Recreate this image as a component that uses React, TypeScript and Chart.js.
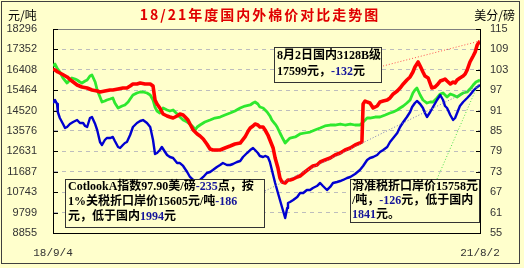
import React, { useEffect, useRef } from 'react';
import { Chart, registerables } from 'chart.js';

Chart.register(...registerables);

// ---------- data ----------
const titleText = '18/21年度国内外棉价对比走势图';
const leftUnit = '元/吨';
const rightUnit = '美分/磅';
const xTickLabels = ['18/9/4', '21/8/2'];
const totalDays = 1063; // 2018-09-04 .. 2021-08-02
const leftTicks = [8855, 9799, 10743, 11687, 12631, 13576, 14520, 15464, 16408, 17352, 18296];
const rightTicks = [55, 61, 67, 73, 79, 85, 91, 97, 103, 109, 115];

// [day offset from 18/9/4, yuan/ton]
const domestic3128B: [number, number][] = [
  [0, 16445], [5, 16398], [12, 16306], [22, 16213], [35, 16075], [47, 15889], [60, 15704], [72, 15612],
  [85, 15565], [97, 15473], [110, 15427], [117, 15380], [129, 15427], [142, 15473], [149, 15473], [162, 15519],
  [174, 15565], [184, 15565], [192, 15658], [199, 15751], [209, 15751], [217, 15797], [229, 15751], [242, 15751],
  [249, 15658], [254, 15010], [259, 14825], [266, 14640], [274, 14362], [284, 14270], [291, 14223], [299, 14177],
  [309, 14270], [316, 14362], [324, 14316], [329, 14223], [336, 14084], [341, 13899], [349, 13622], [359, 13437],
  [366, 13344], [374, 13205], [383, 12974], [391, 12742], [398, 12696], [408, 12696], [416, 12696], [428, 12789],
  [441, 12881], [453, 12974], [466, 13020], [478, 13298], [486, 13575], [491, 13714], [498, 13807], [503, 13899],
  [510, 13853], [515, 13761], [523, 13761], [528, 13622], [535, 13390], [540, 13159], [548, 12789], [553, 12326],
  [560, 11863], [565, 11400], [570, 11215], [578, 11169], [585, 11308], [590, 11308], [598, 11354], [608, 11447],
  [615, 11493], [627, 11678], [640, 11863], [647, 11956], [657, 12002], [665, 12141], [677, 12233], [690, 12326],
  [702, 12465], [715, 12557], [727, 12696], [740, 12789], [752, 12928], [764, 13020], [769, 13066], [772, 14825],
  [777, 14964], [782, 14918], [789, 14871], [797, 14640], [807, 14732], [814, 14918], [822, 14964], [832, 15010],
  [839, 15103], [847, 15288], [857, 15427], [864, 15565], [872, 15751], [881, 15936], [889, 16075], [896, 16306],
  [901, 16537], [909, 16769], [914, 16584], [921, 16306], [926, 16121], [934, 16028], [943, 15565], [951, 15612],
  [956, 15704], [964, 15889], [971, 15936], [976, 15982], [981, 15889], [989, 15751], [996, 15843], [1001, 15797],
  [1006, 15936], [1013, 16028], [1021, 16121], [1026, 16213], [1031, 16398], [1038, 16769], [1046, 17046],
  [1051, 17232], [1056, 17556], [1063, 17741],
];

const slidingDutyPrice: [number, number][] = [
  [0, 16584], [5, 16676], [10, 16491], [17, 16306], [25, 16028], [35, 15797], [42, 15936], [47, 16028],
  [55, 15982], [60, 15936], [67, 15843], [72, 15797], [80, 15889], [85, 15936], [92, 16121], [97, 16167],
  [105, 15843], [110, 15473], [117, 15149], [122, 14918], [129, 14964], [134, 15010], [142, 15056], [149, 15103],
  [154, 14871], [162, 14640], [172, 14732], [179, 14779], [187, 14918], [192, 15056], [199, 15241], [209, 15334],
  [217, 15380], [224, 15380], [234, 15334], [242, 15241], [249, 15010], [254, 14686], [259, 14501], [266, 14408],
  [274, 14640], [284, 14547], [291, 14501], [299, 14547], [309, 14362], [316, 14223], [324, 14084], [334, 13992],
  [341, 13899], [349, 13761], [354, 13622], [359, 13761], [366, 13853], [378, 13992], [391, 14084], [403, 14177],
  [416, 14223], [428, 14316], [441, 14408], [453, 14501], [466, 14640], [478, 14732], [491, 14779], [498, 14871],
  [503, 14918], [510, 14825], [515, 14686], [523, 14640], [533, 14455], [540, 14270], [545, 14084], [553, 13899],
  [558, 13761], [565, 13483], [570, 13298], [578, 13020], [585, 13159], [590, 13251], [603, 13298], [615, 13437],
  [627, 13483], [640, 13529], [652, 13622], [665, 13714], [677, 13807], [690, 13853], [702, 13853], [715, 13899],
  [727, 13853], [740, 13899], [752, 13853], [764, 13853], [772, 13992], [782, 14177], [789, 14177], [802, 14223],
  [814, 14223], [827, 14316], [839, 14408], [847, 14455], [857, 14547], [864, 14640], [872, 14732], [881, 14871],
  [889, 15010], [896, 15334], [901, 15473], [906, 15565], [914, 15241], [921, 15010], [931, 14871], [939, 14918],
  [946, 14918], [956, 15103], [964, 15288], [971, 15334], [981, 15149], [989, 15288], [996, 15241], [1006, 15149],
  [1013, 15241], [1021, 15334], [1031, 15380], [1038, 15519], [1046, 15704], [1053, 15843], [1063, 15936],
];

const onePctTariffPrice: [number, number][] = [
  [0, 14871], [5, 15010], [10, 14825], [12, 14455], [17, 14177], [25, 13899], [30, 13714], [35, 13761],
  [42, 13899], [50, 13992], [55, 14038], [60, 14084], [67, 13946], [75, 13946], [80, 13807], [85, 13761],
  [92, 14177], [97, 14223], [105, 13899], [110, 13622], [117, 13066], [122, 12928], [129, 13159], [134, 13251],
  [142, 13251], [149, 13298], [154, 13112], [162, 12835], [167, 12789], [174, 12928], [179, 13020], [184, 13066],
  [192, 13390], [199, 13761], [209, 13946], [217, 14038], [224, 14084], [234, 13946], [242, 13761], [249, 13159],
  [254, 12511], [259, 12557], [266, 12696], [271, 12835], [279, 12604], [284, 12465], [291, 12372], [299, 12326],
  [309, 12094], [316, 12094], [324, 11956], [334, 11678], [341, 11447], [349, 11308], [359, 11215], [366, 11308],
  [374, 11447], [383, 11632], [391, 11678], [398, 11770], [408, 11909], [416, 12002], [423, 12094], [433, 12002],
  [441, 12002], [448, 12048], [458, 12141], [466, 12187], [473, 12372], [483, 12557], [491, 12696], [498, 12789],
  [503, 12696], [510, 12557], [515, 12419], [523, 12372], [528, 12419], [535, 12372], [540, 12141], [548, 11539],
  [553, 11169], [560, 10706], [565, 10382], [570, 10058], [578, 9549], [583, 10012], [585, 10243], [590, 10290],
  [598, 10382], [608, 10521], [615, 10706], [623, 10706], [632, 10845], [640, 10845], [647, 10937], [657, 11030],
  [665, 11169], [672, 11030], [682, 10845], [690, 10984], [697, 11169], [707, 11215], [715, 11261], [722, 11308],
  [732, 11400], [740, 11447], [752, 11585], [764, 11770], [772, 11956], [782, 12233], [789, 12326], [797, 12372],
  [807, 12465], [814, 12604], [822, 12696], [832, 12835], [839, 13066], [847, 13251], [857, 13483], [864, 13761],
  [872, 13992], [881, 14223], [889, 14455], [894, 14686], [901, 14871], [906, 14964], [914, 14825], [921, 14640],
  [926, 14408], [931, 14223], [939, 14455], [946, 14686], [956, 15010], [964, 15241], [971, 15010], [976, 14732],
  [981, 14640], [989, 14316], [996, 14084], [1001, 14177], [1006, 14408], [1013, 14732], [1021, 14918],
  [1031, 15103], [1038, 15241], [1046, 15427], [1053, 15565], [1063, 15704],
];

// annotation texts: [text, colorKey]
type Run = [string, 'k' | 'b'];
const noteCotlook: Run[][] = [
  [['CotlookA指数97.90美/磅', 'k'], ['-235', 'b'], ['点，按', 'k']],
  [['1%关税折口岸价15605元/吨', 'k'], ['-186', 'b']],
  [['元，低于国内', 'k'], ['1994', 'b'], ['元', 'k']],
];
const noteSliding: Run[][] = [
  [['滑准税折口岸价15758元', 'k']],
  [['/吨，', 'k'], ['-126', 'b'], ['元，低于国内', 'k']],
  [['1841', 'b'], ['元。', 'k']],
];
const noteDomestic: Run[][] = [
  [['8月2日国内3128B级', 'k']],
  [['17599元，', 'k'], ['-132', 'b'], ['元', 'k']],
];

// ---------- styling ----------
const BG = '#FFFFCC';
const RED = '#FF0000';
const GREEN = '#2EE82E';
const BLUE = '#0000D0';
const NAVY = '#14149A';
const BOX_FONT = "bold 12px 'Liberation Serif', 'Noto Sans CJK SC'";

function drawRuns(ctx: CanvasRenderingContext2D, x: number, y: number, runs: Run[]) {
  let cx = x;
  for (const [t, c] of runs) {
    ctx.fillStyle = c === 'b' ? NAVY : '#000';
    ctx.fillText(t, cx, y);
    cx += ctx.measureText(t).width;
  }
}

function drawBox(ctx: CanvasRenderingContext2D, bx: number, by: number, bw: number, bh: number,
  tx: number, lineYs: number[], lines: Run[][]) {
  ctx.save();
  ctx.fillStyle = BG;
  ctx.fillRect(bx, by, bw, bh);
  ctx.strokeStyle = '#333';
  ctx.lineWidth = 1;
  ctx.strokeRect(bx + 0.5, by + 0.5, bw, bh);
  ctx.font = BOX_FONT;
  ctx.textBaseline = 'middle';
  ctx.textAlign = 'left';
  lines.forEach((l, i) => drawRuns(ctx, tx, lineYs[i], l));
  ctx.restore();
}

const decorPlugin = {
  id: 'decor',
  beforeDraw(chart: any) {
    const ctx = chart.ctx;
    ctx.save();
    ctx.fillStyle = BG;
    ctx.fillRect(0, 0, chart.width, chart.height);
    ctx.restore();
  },
  beforeDatasetsDraw(chart: any) {
    const ctx = chart.ctx;
    const { left, right, top } = chart.chartArea;
    ctx.save();
    ctx.strokeStyle = '#808080';
    ctx.lineWidth = 1;
    ctx.beginPath();
    ctx.moveTo(left, Math.round(top) + 0.5);
    ctx.lineTo(right, Math.round(top) + 0.5);
    ctx.stroke();
    ctx.strokeStyle = '#000';
    const yL = chart.scales.y;
    const yR = chart.scales.y1;
    ctx.beginPath();
    leftTicks.forEach((v) => {
      const py = Math.round(yL.getPixelForValue(v)) + 0.5;
      ctx.moveTo(left, py);
      ctx.lineTo(left + 5, py);
    });
    rightTicks.forEach((v) => {
      const py = Math.round(yR.getPixelForValue(v)) + 0.5;
      ctx.moveTo(right - 4, py);
      ctx.lineTo(right, py);
    });
    ctx.stroke();
    ctx.restore();
  },
  afterDatasetsDraw(chart: any) {
    const ctx = chart.ctx;
    const xs = chart.scales.x;
    const ys = chart.scales.y;
    const endOf = (s: [number, number][]) => {
      const p = s[s.length - 1];
      return [xs.getPixelForValue(p[0]), ys.getPixelForValue(p[1])];
    };
    const dotted = (x0: number, y0: number, end: number[], color: string) => {
      ctx.save();
      ctx.strokeStyle = color;
      ctx.lineWidth = 1;
      ctx.setLineDash([1, 2]);
      ctx.beginPath();
      ctx.moveTo(x0, y0);
      ctx.lineTo(end[0], end[1]);
      ctx.stroke();
      ctx.restore();
    };
    dotted(383, 66, endOf(domestic3128B), '#FF5050');
    dotted(265, 191, endOf(onePctTariffPrice), '#7878B8');
    dotted(437, 179, endOf(slidingDutyPrice), '#50E050');

    drawBox(ctx, 65, 179, 199, 48, 68, [187, 202, 217], noteCotlook);
    drawBox(ctx, 350, 179, 129, 43, 352, [187, 201, 215], noteSliding);
    drawBox(ctx, 274, 47, 107, 35, 277, [56, 72], noteDomestic);
  },
  afterDraw(chart: any) {
    const ctx = chart.ctx;
    ctx.save();
    ctx.font = "bold 14px 'Noto Sans CJK SC'";
    (ctx as any).letterSpacing = '2px';
    ctx.fillStyle = '#E00000';
    ctx.textBaseline = 'middle';
    const w = ctx.measureText(titleText).width;
    ctx.fillText(titleText, 260 - w / 2, 15);
    (ctx as any).letterSpacing = '0px';
    ctx.font = "12px 'Noto Sans CJK SC'";
    ctx.fillStyle = '#000';
    ctx.textAlign = 'left';
    ctx.fillText(leftUnit, 8, 15);
    ctx.textAlign = 'right';
    ctx.fillText(rightUnit, 515, 15);
    ctx.strokeStyle = '#404040';
    ctx.lineWidth = 1;
    ctx.strokeRect(1.5, 1.5, 518, 262);
    ctx.restore();
  },
};

const toXY = (s: [number, number][]) => s.map(([x, y]) => ({ x, y }));

export default function App() {
  const ref = useRef<HTMLCanvasElement | null>(null);
  useEffect(() => {
    if (!ref.current) return;
    const chart = new Chart(ref.current, {
      type: 'line',
      data: {
        datasets: [
          { label: '国内3128B', data: toXY(domestic3128B), borderColor: RED, borderWidth: 3.6, pointRadius: 0, borderJoinStyle: 'round', yAxisID: 'y' },
          { label: '1%关税折口岸价', data: toXY(onePctTariffPrice), borderColor: BLUE, borderWidth: 2.4, pointRadius: 0, borderJoinStyle: 'round', yAxisID: 'y' },
          { label: '滑准税折口岸价', data: toXY(slidingDutyPrice), borderColor: GREEN, borderWidth: 2.8, pointRadius: 0, borderJoinStyle: 'round', yAxisID: 'y' },
        ],
      },
      options: {
        animation: false,
        responsive: false,
        devicePixelRatio: 1,
        layout: { padding: { top: 29, left: 0, right: 0, bottom: 0 } },
        plugins: { legend: { display: false }, tooltip: { enabled: false }, title: { display: false } },
        scales: {
          x: {
            type: 'linear',
            min: 0,
            max: totalDays,
            afterBuildTicks: (s: any) => { s.ticks = [{ value: 0 }, { value: totalDays }]; },
            afterFit: (s: any) => { s.height = 35; },
            grid: { display: false, drawTicks: false },
            border: { display: true, color: '#000', width: 1 },
            ticks: {
              autoSkip: false,
              maxRotation: 0,
              padding: 13,
              color: '#333',
              font: { family: 'Liberation Mono', size: 11 },
              callback: (v: any) => (v === 0 ? xTickLabels[0] : xTickLabels[1]),
            },
          },
          y: {
            type: 'linear',
            position: 'left',
            min: leftTicks[0],
            max: leftTicks[leftTicks.length - 1],
            afterBuildTicks: (s: any) => { s.ticks = leftTicks.map((v) => ({ value: v })); },
            afterFit: (s: any) => { s.width = 53; },
            grid: { color: '#BDBDBD', drawTicks: false, lineWidth: 1 },
            border: { display: true, color: '#000', width: 1, dash: [4, 4] },
            ticks: { padding: 16, color: '#333', font: { family: 'Liberation Sans', size: 11 }, callback: (v: any) => String(v) },
          },
          y1: {
            type: 'linear',
            position: 'right',
            min: rightTicks[0],
            max: rightTicks[rightTicks.length - 1],
            afterBuildTicks: (s: any) => { s.ticks = rightTicks.map((v) => ({ value: v })); },
            afterFit: (s: any) => { s.width = 44; },
            grid: { display: false, drawTicks: false },
            border: { display: true, color: '#000', width: 1 },
            ticks: { padding: 10, color: '#333', font: { family: 'Liberation Sans', size: 11 }, callback: (v: any) => String(v) },
          },
        },
      } as any,
      plugins: [decorPlugin],
    });
    return () => chart.destroy();
  }, []);
  return (
    <div style={{ position: 'absolute', left: 0, top: 0, width: 524, height: 268 }}>
      <canvas ref={ref} width={524} height={268} />
    </div>
  );
}
